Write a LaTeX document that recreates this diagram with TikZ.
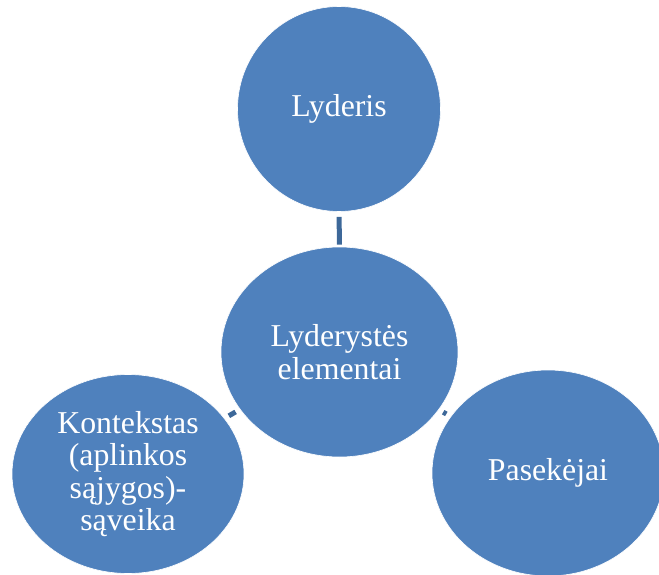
\documentclass[tikz,border=0pt]{standalone}
\usepackage{fontspec}
\setmainfont{Liberation Serif}
\usetikzlibrary{shapes.geometric}
\definecolor{bubble}{HTML}{4F81BD}
\definecolor{link}{HTML}{3D6899}
\tikzset{
  bubble/.style={ellipse, fill=bubble, draw=white, line width=0.6pt, inner sep=0pt,
    text=white, align=center, font=\fontsize{31.8}{32.4}\selectfont},
  linkbar/.style={draw=link, line width=5pt}
}
\begin{document}
\begin{tikzpicture}[x=1pt, y=-1pt]
  \useasboundingbox (0,0) rectangle (659,575);
  % outer elements
  \node[bubble, minimum width=203pt, minimum height=205pt] (lyd) at (339,109) {Lyderis};
  \node[bubble, minimum width=232pt, minimum height=199pt] (kon) at (128,474)
    {Kontekstas\\(aplinkos\\sąjygos)-\\sąveika};
  \node[bubble, minimum width=232pt, minimum height=206pt] (pas) at (548,473) {Pasekėjai};
  % central element
  \node[bubble, minimum width=237pt, minimum height=210pt] (ele) at (339.5,352)
    {Lyderystės\\elementai};
  % connectors
  \draw[linkbar, shorten <=2pt, shorten >=5pt] (ele) -- (lyd);
  \draw[linkbar, shorten <=5pt, shorten >=5pt] (ele) -- (kon);
  \draw[linkbar, shorten <=5pt, shorten >=5pt] (ele) -- (pas);
\end{tikzpicture}
\end{document}
